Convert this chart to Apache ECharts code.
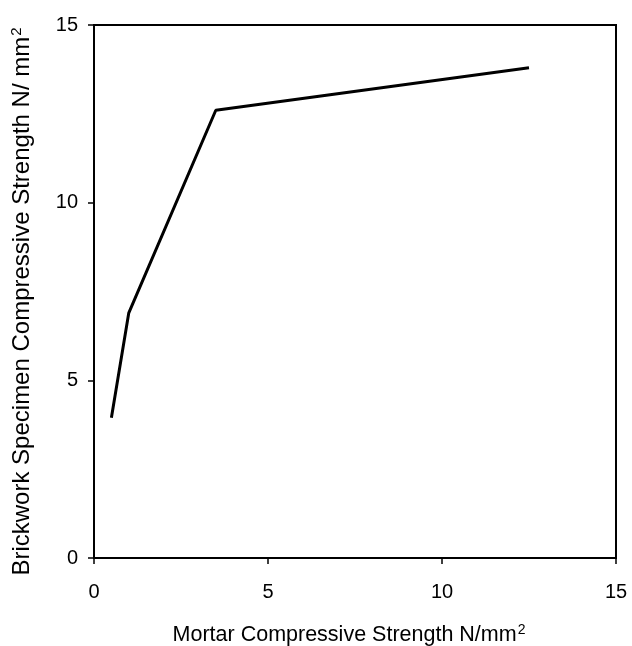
<!DOCTYPE html>
<html><head><meta charset="utf-8">
<script src="https://cdn.jsdelivr.net/npm/echarts@6/dist/echarts.min.js"></script>
<style>html,body{margin:0;padding:0;background:#fff}#c{width:632px;height:646px}</style>
</head><body><div id="c"></div>
<script>
const mortarStrength = [0.5, 1.0, 3.5, 12.5];
const brickworkStrength = [3.95, 6.9, 12.6, 13.8];
const xTicks = [0, 5, 10, 15];
const yTicks = [0, 5, 10, 15];

const chart = echarts.init(document.getElementById('c'));
const font = 'Liberation Sans, Arial, sans-serif';
const axisCommon = {
  type: 'value', min: 0, max: 15, interval: 5,
  axisLine: {show: true, onZero: false, lineStyle: {color: '#000', width: 2}},
  axisTick: {show: true, length: 6, lineStyle: {color: '#000', width: 1.5}},
  splitLine: {show: false},
  axisLabel: {color: '#000', fontSize: 20, fontFamily: font}
};
chart.setOption({
  animation: false,
  backgroundColor: '#fff',
  grid: {left: 94, top: 25, right: 16, bottom: 88, outerBoundsMode: 'none', containLabel: false,
         show: true, borderColor: '#000', borderWidth: 2},
  xAxis: Object.assign({}, axisCommon, {
    name: '{a|Mortar Compressive Strength N/mm}{s|2}',
    nameLocation: 'middle', nameGap: 65,
    nameTextStyle: {padding: [0, 12, 0, 0], rich: {
      a: {fontSize: 21.5, fontFamily: font, color: '#000', verticalAlign: 'bottom'},
      s: {fontSize: 14, fontFamily: font, color: '#000', verticalAlign: 'top', padding: [0, 0, 9, 1]}
    }},
    axisLabel: {color: '#000', fontSize: 20, fontFamily: font, margin: 24, formatter: v => xTicks.includes(v) ? String(v) : ''}
  }),
  yAxis: Object.assign({}, axisCommon, {
    name: '{a|Brickwork Specimen Compressive Strength N/ mm}{s|2}',
    nameLocation: 'middle', nameGap: 60,
    nameTextStyle: {padding: [0, 20, 0, 0], rich: {
      a: {fontSize: 24, fontFamily: font, color: '#000', verticalAlign: 'bottom'},
      s: {fontSize: 15, fontFamily: font, color: '#000', verticalAlign: 'top', padding: [0, 0, 10, 1]}
    }},
    axisLabel: {color: '#000', fontSize: 20, fontFamily: font, margin: 16, formatter: v => yTicks.includes(v) ? String(v) : ''}
  }),
  series: [{
    type: 'line',
    data: mortarStrength.map((x, i) => [x, brickworkStrength[i]]),
    symbol: 'none',
    lineStyle: {color: '#000', width: 3}
  }]
});
</script></body></html>
